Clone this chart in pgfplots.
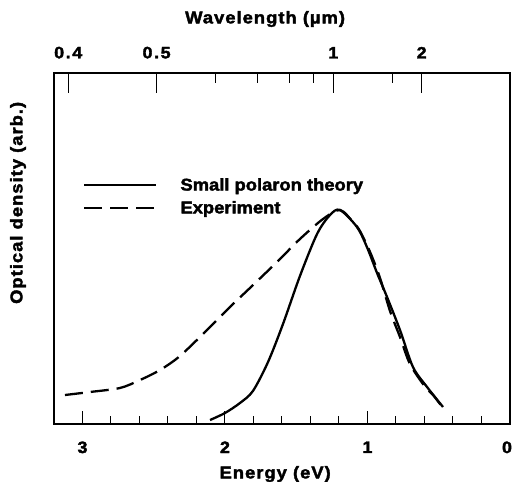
\documentclass[border=0pt]{standalone}
\usepackage{fontspec}
\setmainfont{Liberation Sans}[FakeStretch=1.08, BoldFeatures={FakeStretch=1.08, FakeBold=2.2}]
\usepackage{pgfplots}
\pgfplotsset{compat=1.18}

\newcommand\lbl{\fontsize{17bp}{20bp}\selectfont\bfseries\addfontfeatures{LetterSpace=6}}
\newcommand\tkl{\fontsize{16.5bp}{19bp}\selectfont\bfseries\addfontfeatures{LetterSpace=10}}
\newcommand\lgd{\fontsize{17bp}{20bp}\selectfont\bfseries}

\pgfplotsset{
  base/.style={at={(0,0)}, anchor=south west, scale only axis,
    width=456bp, height=351bp,
    xmin=0, xmax=3.2, ymin=0, ymax=351, x dir=reverse,
    tick style={black, line width=1bp},
    axis line style={line width=1.2bp},
    /pgf/number format/assume math mode=true},
}

\begin{document}
\begin{tikzpicture}
\useasboundingbox (-54bp,-58bp) rectangle (459bp,424bp);

% energy axis (bottom) with the curves
\begin{axis}[base,
  xtick={0,1,2,3}, xticklabels={{0\kern6bp},1,2,3},
  minor x tick num=4, xtick pos=bottom, ytick=\empty,
  major tick length=13bp, minor tick length=8bp,
  xticklabel style={font=\tkl, yshift=-14bp},
  xlabel={Energy (eV)},
  xlabel style={font=\lbl, at={(axis description cs:0.485,0)}, anchor=center, yshift=-50bp},
  ylabel={Optical density (arb.)},
  ylabel style={font=\lbl, at={(axis description cs:-0.079,0.63)}, anchor=center},
  legend style={draw=none, fill=none, at={(axis description cs:0.0636,0.648)}, anchor=west,
    font=\lgd, inner sep=0pt, row sep=9bp, column sep=23bp,
    nodes={inner sep=0pt}},
  legend cell align=left,
  legend image code/.code={\draw[#1] (-2bp,0bp) -- (70bp,0bp);},
]
% small polaron theory
\addplot[black, line width=2.3bp, smooth, tension=0.5] coordinates {
(2.105,4) (2.000,11) (1.895,21) (1.804,33) (1.698,62) (1.593,100)
(1.474,148) (1.354,190) (1.263,209) (1.193,214) (1.074,197) (1.004,177)
(0.933,151) (0.863,127) (0.772,94) (0.681,57) (0.582,37) (0.470,17)
};
\addlegendentry{Small polaron theory}
% experiment
\addplot[black, line width=2.3bp, dash pattern=on 18bp off 8bp, smooth, tension=0.5] coordinates {
(3.123,29) (2.947,32) (2.737,36) (2.596,44) (2.456,54) (2.316,68)
(2.126,94) (1.965,117) (1.825,136) (1.635,162) (1.474,185) (1.312,205)
(1.193,214) (1.102,202) (1.053,193) (0.982,172) (0.912,146) (0.842,113)
(0.772,87) (0.702,60) (0.600,38) (0.540,29) (0.470,16)
};
\addlegendentry{Experiment}
\end{axis}

% wavelength axis (top): lambda = 1.24/E
\begin{axis}[base,
  axis x line*=top, axis y line=none,
  xtick={3.1,2.48,1.24,0.62}, xticklabels={0.4,0.5,1,2},
  minor xtick={2.0667,1.7714,1.55,1.3778,0.8267},
  major tick length=20bp, minor tick length=10bp,
  xticklabel style={font=\tkl, yshift=11bp},
  xlabel={Wavelength (µm)},
  xlabel style={font=\lbl, at={(axis description cs:0.463,1)}, anchor=center, yshift=54bp},
]
\addplot[draw=none] coordinates {(1,1)};
\end{axis}
\end{tikzpicture}
\end{document}
